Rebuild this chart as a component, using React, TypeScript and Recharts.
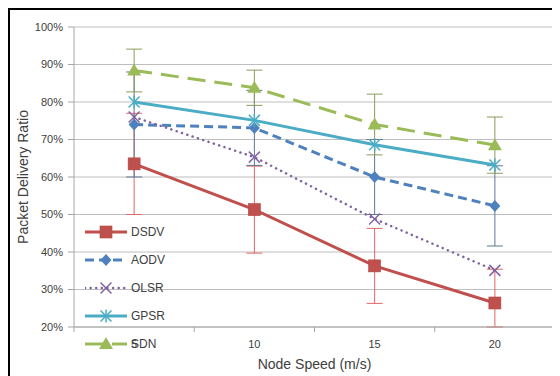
import React from 'react';
import { LineChart, Line, XAxis, YAxis, CartesianGrid, ErrorBar, Legend, Label } from 'recharts';

const speeds = [5, 10, 15, 20];
const speedBounds = [2.5, 7.5, 12.5, 17.5, 22.5];
const yTicks = [20, 30, 40, 50, 60, 70, 80, 90, 100];

const dsdv = [63.5, 51.3, 36.3, 26.4];
const aodv = [74.0, 73.1, 60.0, 52.3];
const olsr = [76.0, 65.3, 48.8, 35.1];
const gpsr = [80.0, 75.1, 68.6, 63.2];
const sdn = [88.4, 83.8, 74.0, 68.5];

// error bar extents (below, above); the last DSDV bar is cut off at the 20% axis
const dsdvErrLow = [13.5, 11.6, 10.0, 6.4];
const dsdvErrHigh = [13.5, 11.6, 10.0, 9.0];
const aodvErr = [14.0, 10.0, 10.0, 10.7];
const sdnErr = [5.7, 4.7, 8.1, 7.5];

const FONT = '"Liberation Sans", Arial, sans-serif';
const TEXT = '#404040';
const GRID = '#BEBEBE';
const AXIS = '#A6A6A6';

type Series = {
  name: string;
  color: string;
  dash?: string;
  width: number;
  shape: string;
  cap?: 'round' | 'butt';
  errKey?: string;
  errColor?: string;
};

const series: Series[] = [
  { name: 'DSDV', color: '#C0504D', width: 3, shape: 'square', errKey: 'DSDVerr', errColor: '#E06868' },
  { name: 'AODV', color: '#4F81BD', width: 3, dash: '9 5', shape: 'diamond', errKey: 'AODVerr', errColor: '#5F7594' },
  { name: 'OLSR', color: '#8064A2', width: 2.5, dash: '0.1 5.5', cap: 'round', shape: 'x' },
  { name: 'GPSR', color: '#4BACC6', width: 3, shape: 'star' },
  { name: 'SDN', color: '#9BBB59', width: 3, dash: '18 9', shape: 'triangle', errKey: 'SDNerr', errColor: '#8A9C5C' },
];

const data = speeds.map((s, i) => ({
  speed: s,
  DSDV: dsdv[i],
  AODV: aodv[i],
  OLSR: olsr[i],
  GPSR: gpsr[i],
  SDN: sdn[i],
  DSDVerr: [dsdvErrLow[i], dsdvErrHigh[i]],
  AODVerr: aodvErr[i],
  SDNerr: sdnErr[i],
}));

function Marker({ shape, cx, cy, color }: { shape: string; cx: number; cy: number; color: string }) {
  if (cx == null || cy == null || isNaN(cx) || isNaN(cy)) return null;
  switch (shape) {
    case 'square':
      return <rect x={cx - 6} y={cy - 6} width={12} height={12} fill={color} stroke="#B04643" strokeWidth={0.6} />;
    case 'diamond':
      return (
        <polygon
          points={`${cx},${cy - 6} ${cx + 5.5},${cy} ${cx},${cy + 6} ${cx - 5.5},${cy}`}
          fill={color}
        />
      );
    case 'x':
      return (
        <g stroke={color} strokeWidth={1.5}>
          <line x1={cx - 5.5} y1={cy - 5.5} x2={cx + 5.5} y2={cy + 5.5} />
          <line x1={cx - 5.5} y1={cy + 5.5} x2={cx + 5.5} y2={cy - 5.5} />
        </g>
      );
    case 'star':
      return (
        <g stroke={color} strokeWidth={1.5}>
          <line x1={cx - 5.5} y1={cy - 5.5} x2={cx + 5.5} y2={cy + 5.5} />
          <line x1={cx - 5.5} y1={cy + 5.5} x2={cx + 5.5} y2={cy - 5.5} />
          <line x1={cx} y1={cy - 6.5} x2={cx} y2={cy + 6.5} />
        </g>
      );
    case 'triangle':
      return (
        <polygon points={`${cx},${cy - 7} ${cx + 7},${cy + 5} ${cx - 7},${cy + 5}`} fill={color} />
      );
    default:
      return null;
  }
}

const XTick = (props: any) => {
  const { x, y, payload } = props;
  const v = payload.value;
  if (speeds.includes(v)) {
    return (
      <text x={x} y={y + 21} textAnchor="middle" fontSize={11} fill={TEXT} fontFamily={FONT}>
        {v}
      </text>
    );
  }
  return <line x1={x} y1={y} x2={x} y2={y + 5} stroke={AXIS} strokeWidth={1} />;
};

const renderLegend = () => (
  <div style={{ display: 'flex', flexDirection: 'column' }}>
    {series.map((s) => (
      <div key={s.name} style={{ height: 28, display: 'flex', alignItems: 'center' }}>
        <svg width={46} height={28} style={{ display: 'block' }}>
          <line
            x1={0}
            y1={14}
            x2={42}
            y2={14}
            stroke={s.color}
            strokeWidth={s.width}
            strokeDasharray={s.dash}
            strokeLinecap={s.cap || 'butt'}
          />
          <Marker shape={s.shape} cx={21} cy={14} color={s.color} />
        </svg>
        <span style={{ fontSize: 12, color: TEXT, fontFamily: FONT, lineHeight: '14px' }}>{s.name}</span>
      </div>
    ))}
  </div>
);

export default function App() {
  return (
    <div
      style={{
        width: 552,
        height: 368,
        borderLeft: '2px solid #000',
        borderTop: '2px solid #000',
        boxSizing: 'border-box',
        position: 'relative',
        overflow: 'hidden',
        background: '#fff',
      }}
    >
      <LineChart
        width={550}
        height={366}
        data={data}
        margin={{ top: 17, right: 5, bottom: 19, left: 10 }}
        style={{ fontFamily: FONT }}
      >
        <CartesianGrid vertical={false} stroke={GRID} strokeWidth={1} />
        <XAxis
          dataKey="speed"
          type="number"
          domain={[2.5, 22.5]}
          ticks={[...speedBounds, ...speeds].sort((a, b) => a - b)}
          interval={0}
          tick={<XTick />}
          tickLine={false}
          tickSize={0}
          tickMargin={0}
          height={30}
          axisLine={{ stroke: AXIS }}
        >
          <Label
            content={(p: any) => {
              const vb = p.viewBox || {};
              return (
                <text
                  x={vb.x + vb.width / 2}
                  y={vb.y + 42}
                  textAnchor="middle"
                  fontSize={14}
                  fill={TEXT}
                  fontFamily={FONT}
                >
                  Node Speed (m/s)
                </text>
              );
            }}
          />
        </XAxis>
        <YAxis
          type="number"
          domain={[20, 100]}
          ticks={yTicks}
          allowDataOverflow
          interval={0}
          width={54}
          tickSize={6}
          tickMargin={5}
          tickLine={{ stroke: AXIS }}
          axisLine={{ stroke: AXIS }}
          tickFormatter={(v: number) => `${v}%`}
          tick={{ fontSize: 11, fill: TEXT, fontFamily: FONT }}
        >
          <Label
            content={(p: any) => {
              const vb = p.viewBox || {};
              const cx = vb.x + 3;
              const cy = vb.y + vb.height / 2;
              return (
                <text
                  x={cx}
                  y={cy}
                  transform={`rotate(-90 ${cx} ${cy})`}
                  textAnchor="middle"
                  dominantBaseline="central"
                  fontSize={14}
                  fill={TEXT}
                  fontFamily={FONT}
                >
                  Packet Delivery Ratio
                </text>
              );
            }}
          />
        </YAxis>
        {series.map((s) => (
          <Line
            key={s.name}
            dataKey={s.name}
            type="linear"
            stroke={s.color}
            strokeWidth={s.width}
            strokeDasharray={s.dash}
            strokeLinecap={s.cap || 'butt'}
            isAnimationActive={false}
            dot={(p: any) => <Marker key={`${s.name}-${p.index}`} shape={s.shape} cx={p.cx} cy={p.cy} color={s.color} />}
            activeDot={false}
            legendType="none"
          >
            {s.errKey ? (
              <ErrorBar dataKey={s.errKey} width={8} strokeWidth={1} stroke={s.errColor} direction="y" />
            ) : null}
          </Line>
        ))}
        <Legend
          content={renderLegend}
          layout="vertical"
          align="center"
          verticalAlign="middle"
          wrapperStyle={{ left: 75, top: 208, width: 110 }}
        />
      </LineChart>
    </div>
  );
}
